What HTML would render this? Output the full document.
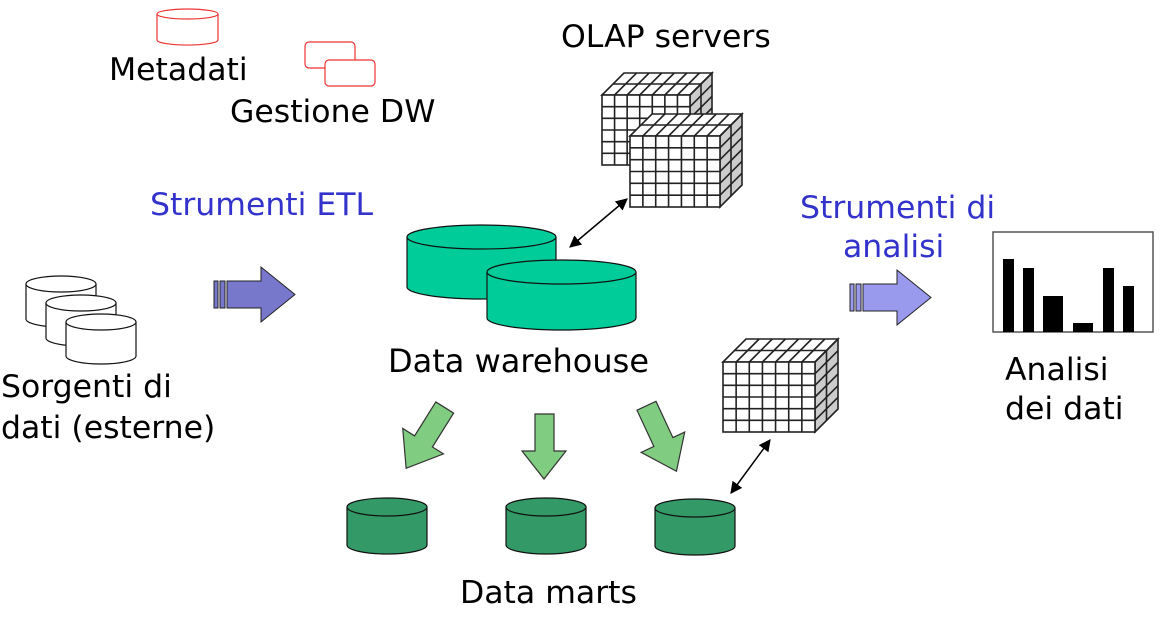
<!DOCTYPE html>
<html><head><meta charset="utf-8"><style>
body{margin:0;background:#fff;width:1166px;height:617px;overflow:hidden}
svg{position:absolute;left:0;top:0}
text{font-family:"DejaVu Sans","Liberation Sans",sans-serif}
</style></head><body>
<svg id="s" width="1166" height="617" viewBox="0 0 1166 617">
<defs>
<marker id="ah" viewBox="0 0 10 10" refX="9" refY="5" markerWidth="8" markerHeight="8" orient="auto-start-reverse"><path d="M0,0L10,5L0,10z" fill="#000"/></marker>
</defs>
<path d="M157,14 v26 a30,5 0 0 0 61,0 v-26" fill="#fff" stroke="#e33" stroke-width="1.2"/>
<ellipse cx="187.5" cy="14" rx="30.5" ry="5" fill="#fff" stroke="#e33" stroke-width="1.2"/>
<rect x="305" y="42" width="50" height="26" rx="4" fill="#fff" stroke="#e33" stroke-width="1.2"/>
<rect x="325" y="60" width="50" height="26" rx="4" fill="#fff" stroke="#e33" stroke-width="1.2"/>
<text x="109" y="80" font-size="31.5">Metadati</text>
<text x="230" y="122" font-size="31.5">Gestione DW</text>
<text x="561" y="47" font-size="31.5">OLAP servers</text>
<text x="150" y="215" font-size="31.5" fill="#3333cc">Strumenti ETL</text>
<text x="800" y="218" font-size="31.5" fill="#3333cc">Strumenti di</text>
<text x="843" y="257" font-size="31.5" fill="#3333cc">analisi</text>
<text x="1" y="397" font-size="31.5">Sorgenti di</text>
<text x="1" y="438" font-size="31.5">dati (esterne)</text>
<text x="388" y="372" font-size="32">Data warehouse</text>
<text x="1005" y="380" font-size="31.5">Analisi</text>
<text x="1005" y="419" font-size="31.5">dei dati</text>
<text x="460" y="603" font-size="31.5">Data marts</text>
<g id="cyls"></g>
<rect x="214" y="281" width="4" height="27" fill="#7777cc" stroke="#222"/>
<rect x="220" y="281" width="5" height="27" fill="#7777cc" stroke="#222"/>
<path d="M227,281 H261 V267 L295,294.5 L261,322 V308 H227z" fill="#7777cc" stroke="#222"/>
<rect x="850" y="284" width="4" height="27" fill="#9999ee" stroke="#222"/>
<rect x="856" y="284" width="5" height="27" fill="#9999ee" stroke="#222"/>
<path d="M863,284 H897 V270 L931,297.5 L897,325 V311 H863z" fill="#9999ee" stroke="#222"/>
<g fill="#80cc80" stroke="#333" stroke-width="1.2">
<path d="M535,414 h19 v37 h12 l-22,28 l-22,-28 h13z"/>
<path transform="rotate(32 425 440)" d="M414,402 h21 v40 h13 l-24,32 l-24,-32 h14z"/>
<path transform="rotate(-25 663 440)" d="M652,402 h21 v40 h13 l-24,32 l-24,-32 h14z"/>
</g>
<rect x="993" y="232" width="160" height="100" fill="#fff" stroke="#555" stroke-width="1.5"/>
<g fill="#000">
<rect x="1003" y="259" width="11" height="73"/><rect x="1023" y="268" width="11" height="64"/>
<rect x="1043" y="296" width="20" height="36"/><rect x="1073" y="323" width="20" height="9"/>
<rect x="1103" y="268" width="11" height="64"/><rect x="1123" y="286" width="11" height="46"/>
</g>
<g id="cubes"></g>
<line x1="570" y1="247" x2="627" y2="199" stroke="#000" stroke-width="1.5" marker-start="url(#ah)" marker-end="url(#ah)"/>
<line x1="731" y1="493" x2="770" y2="440" stroke="#000" stroke-width="1.5" marker-start="url(#ah)" marker-end="url(#ah)"/>
</svg>
<script>
var NS="http://www.w3.org/2000/svg";
function cyl(x,y,w,h,ry,fill,sw){
 var g=document.getElementById('cyls');
 var p=document.createElementNS(NS,'path');
 p.setAttribute('d',`M${x},${y} v${h} a${w/2},${ry} 0 0 0 ${w},0 v${-h}`);
 p.setAttribute('fill',fill);p.setAttribute('stroke','#111');p.setAttribute('stroke-width',sw);g.appendChild(p);
 var e=document.createElementNS(NS,'ellipse');
 e.setAttribute('cx',x+w/2);e.setAttribute('cy',y);e.setAttribute('rx',w/2);e.setAttribute('ry',ry);
 e.setAttribute('fill',fill);e.setAttribute('stroke','#111');e.setAttribute('stroke-width',sw);g.appendChild(e);
}
cyl(26,284,70,35,8,'#fff',1.2);cyl(46,303,70,35,8,'#fff',1.2);cyl(66,322,70,34,8,'#fff',1.2);
cyl(407,237,149,50,12,'#00cc99',1.2);cyl(487,272,149,46,12,'#00cc99',1.2);
cyl(347,507,80,38,9,'#339966',1.2);cyl(506,507,80,38,9,'#339966',1.2);cyl(655,508,80,38,9,'#339966',1.2);
function cube(x,y,w,h,d,cols,rows,dep){
 var g=document.getElementById('cubes'),s='';
 var st='stroke="#222" stroke-width="1.6"';
 s+=`<polygon points="${x},${y} ${x+d},${y-d} ${x+w+d},${y-d} ${x+w},${y}" fill="#fff" ${st}/>`;
 s+=`<polygon points="${x+w},${y} ${x+w+d},${y-d} ${x+w+d},${y+h-d} ${x+w},${y+h}" fill="#ccc" ${st}/>`;
 s+=`<rect x="${x}" y="${y}" width="${w}" height="${h}" fill="#fff" ${st}/>`;
 for(var i=1;i<cols;i++){var cx=x+w*i/cols;s+=`<line x1="${cx}" y1="${y+h}" x2="${cx}" y2="${y}" ${st}/><line x1="${cx}" y1="${y}" x2="${cx+d}" y2="${y-d}" ${st}/>`;}
 for(var j=1;j<rows;j++){var cy=y+h*j/rows;s+=`<line x1="${x}" y1="${cy}" x2="${x+w}" y2="${cy}" ${st}/><line x1="${x+w}" y1="${cy}" x2="${x+w+d}" y2="${cy-d}" ${st}/>`;}
 for(var k=1;k<dep;k++){var o=d*k/dep;s+=`<line x1="${x+o}" y1="${y-o}" x2="${x+w+o}" y2="${y-o}" ${st}/><line x1="${x+w+o}" y1="${y-o}" x2="${x+w+o}" y2="${y+h-o}" ${st}/>`;}
 s+=`<line x1="${x+w}" y1="${y}" x2="${x+w+d}" y2="${y-d}" ${st}/>`;
 g.insertAdjacentHTML('beforeend',s);
}
cube(602,95,88,70,22,7,6,2);
cube(630,136,90,71,22,7,6,2);
cube(723,362,92,70,23,7,6,2);
</script>
</body></html>
